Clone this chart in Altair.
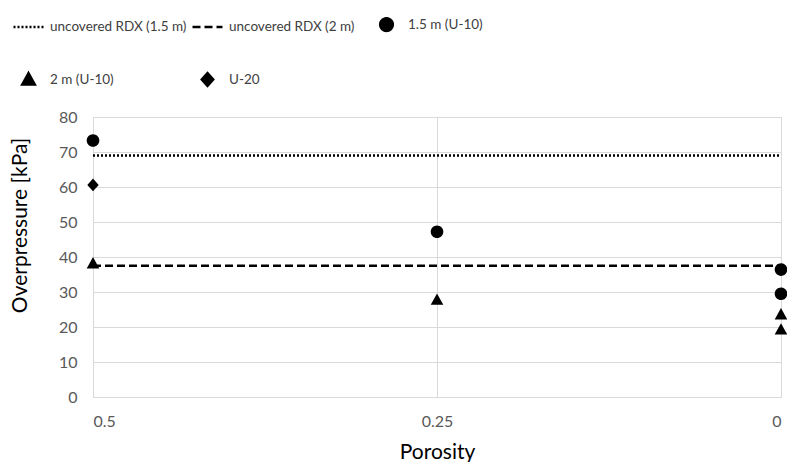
import altair as alt
import pandas as pd

series_names = ["uncovered RDX (1.5 m)", "uncovered RDX (2 m)", "1.5 m (U-10)", "2 m (U-10)", "U-20"]
porosity_ticks = [0.5, 0.25, 0]
kpa_ticks = [0, 10, 20, 30, 40, 50, 60, 70, 80]

# horizontal reference levels (uncovered charge)
ref_series = ["uncovered RDX (1.5 m)", "uncovered RDX (2 m)"]
ref_values = [69.0, 37.5]
ref_span = [0.5, 0]

# measured points
pt_series = ["1.5 m (U-10)", "1.5 m (U-10)", "1.5 m (U-10)", "1.5 m (U-10)",
             "2 m (U-10)", "2 m (U-10)", "2 m (U-10)", "2 m (U-10)",
             "U-20"]
pt_porosity = [0.5, 0.25, 0, 0, 0.5, 0.25, 0, 0, 0.5]
pt_kpa = [73.3, 47.2, 36.4, 29.5, 38.2, 27.8, 23.6, 19.3, 60.6]

FONT = "Lato, Roboto, sans-serif"

# unit-box symbol paths (box [-1,1] = sqrt(size) px)
SYM_LINE = "M-1,0H1"
SYM_CIRCLE = "M0.42,0A0.42,0.42,0,1,1,-0.42,0A0.42,0.42,0,1,1,0.42,0Z"
SYM_TRI = "M0,-0.42L0.42,0.34L-0.42,0.34Z"
SYM_DIAMOND = "M0,-0.42L0.38,0L0,0.42L-0.38,0Z"

ref_df = pd.DataFrame([
    {"series": s, "porosity": p, "kpa": v}
    for s, v in zip(ref_series, ref_values) for p in ref_span
])
pt_df = pd.DataFrame({"series": pt_series, "porosity": pt_porosity, "kpa": pt_kpa})

x_enc = alt.X("porosity:Q", scale=alt.Scale(domain=[0, 0.5], reverse=True, nice=False),
              axis=alt.Axis(values=porosity_ticks, title="Porosity", format=".2~f"))
y_enc = alt.Y("kpa:Q", scale=alt.Scale(domain=[0, 80], nice=False),
              axis=alt.Axis(values=kpa_ticks, title="Overpressure [kPa]", titleY=108))

legend = alt.Legend(title=None, orient="none", legendX=-81, legendY=-109, columns=3,
                    direction="horizontal",
                    columnPadding=0, rowPadding=27, labelOffset=5, gridAlign="all",
                    symbolSize=900, symbolStrokeWidth=2.5, labelFontSize=13.5, labelFont=FONT,
                    labelColor="#404040", padding=0)

color_enc = alt.Color("series:N", scale=alt.Scale(domain=series_names, range=["black"] * 5),
                      legend=legend)

lines = alt.Chart(ref_df).mark_line(strokeWidth=2.5).encode(
    x=x_enc, y=y_enc, color=color_enc,
    strokeDash=alt.StrokeDash("series:N", scale=alt.Scale(
        domain=series_names, range=[[2, 2], [8, 4], [1, 0], [1, 0], [1, 0]]), legend=legend),
)

points = alt.Chart(pt_df).mark_point(filled=True, opacity=1, size=900).encode(
    x=x_enc, y=y_enc, color=color_enc,
    shape=alt.Shape("series:N", scale=alt.Scale(
        domain=series_names, range=[SYM_LINE, SYM_LINE, SYM_CIRCLE, SYM_TRI, SYM_DIAMOND]), legend=legend),
)

chart = alt.layer(lines, points).properties(
    width=688, height=280,
    autosize=alt.AutoSizeParams(type="none"),
    padding={"left": 93, "top": 117, "right": 6, "bottom": 65},
).configure_view(stroke=None).configure_axis(
    gridColor="#d9d9d9", domainColor="#d9d9d9", ticks=False, tickSize=0,
    labelFont=FONT, titleFont=FONT, labelColor="#595959", titleColor="black",
    labelFontSize=16, titleFontSize=21, titleFontWeight="normal",
).configure_axisY(labelPadding=16, titlePadding=28).configure_axisX(labelPadding=16, titlePadding=12)

chart.save("out.html", embed_options={"renderer": "svg", "actions": False})
